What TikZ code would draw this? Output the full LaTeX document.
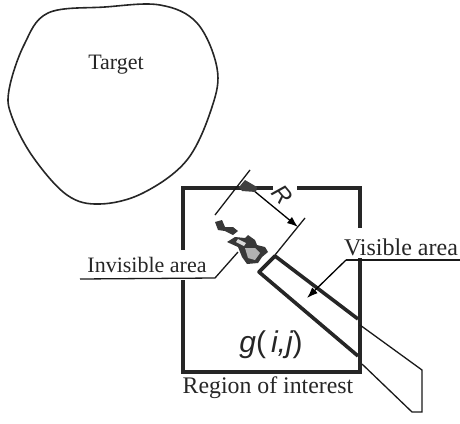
\documentclass[tikz,border=0pt]{standalone}
\usepackage{fontspec}
\setmainfont{Liberation Serif}
\setsansfont{Liberation Sans}
\usetikzlibrary{arrows.meta}

\begin{document}
\begin{tikzpicture}[
  x=1pt, y=-1pt,
  font=\fontsize{22}{24}\selectfont,
  lbl/.style={inner sep=0pt, text=black!85},
  frame/.style={line width=4pt, black!85, line cap=butt},
  slit/.style={line width=3.6pt, black!85, line join=round},
  thin/.style={line width=1.3pt, black!90},
  fl/.style={-{Latex[length=11pt,width=8pt]}, line width=1.3pt},
  spot/.style={fill=black!78, draw=none}
]
\useasboundingbox (0,0) rectangle (460,423);

% target
\draw[line width=1.6pt, black!85] plot[smooth cycle, tension=0.6] coordinates
  {(48,13) (105,7) (160,5) (197,23) (217,68) (212,107) (187,160)
   (143,193) (100,204) (67,195) (33,157) (12,117) (9,90) (24,45)};
\node[lbl] (target) at (116,65) {Target};

% square
\coordinate (tl) at (183,188);
\coordinate (tr) at (360,188);
\coordinate (bl) at (183,372);
\coordinate (br) at (360,372);
\draw[frame] (183,250) -- (tl) -- (273,188);
\draw[frame] (297,188) -- (tr) -- (360,228);
\draw[frame] (360,258) -- (br) -- (bl) -- (183,280);

% visible slit
\coordinate (s1) at (358,319);
\coordinate (s2) at (275,256);
\coordinate (s3) at (259,272);
\coordinate (s4) at (358,356);
\draw[slit] (s1) -- (s2) -- (s3) -- (s4);

% tab of the slit
\coordinate (t1) at (360,325);
\coordinate (t2) at (422,370);
\coordinate (t3) at (422,412);
\coordinate (t4) at (412,412);
\coordinate (t5) at (362,364);
\draw[thin] (t1) -- (t2) -- (t3) -- (t4) -- (t5);

% radius
\coordinate (r1) at (215,215);
\coordinate (r2) at (250,170);
\coordinate (r3) at (275,255);
\coordinate (r4) at (305,218);
\coordinate (r5) at (253,190);
\coordinate (r6) at (298,227);
\draw[thin] (r1) -- (r2);
\draw[thin] (r3) -- (r4);
\draw[fl] (r5) -- (r6);
\fill[black!75] (239,187) -- (245,180) -- (257,187) -- (256,192) -- (242,191) -- cycle;
\node[lbl, rotate=-50] (radius) at (282,195) {\fontsize{24}{26}\selectfont\sffamily\itshape R};

% invisible spots
\fill[spot] (215,222) -- (222,220) -- (225,227) -- (233,227) -- (238,231) -- (233,235) -- (225,231) -- (218,230) -- cycle;
\fill[spot] (227,242) -- (235,237) -- (245,238) -- (248,235) -- (255,240) -- (257,245) -- (265,247) -- (268,252)
  -- (262,257) -- (258,263) -- (247,264) -- (242,257) -- (238,247) -- cycle;
\fill[black!30] (245,248) -- (255,248) -- (260,253) -- (255,260) -- (248,258) -- cycle;
\fill[black!15] (238,239) -- (246,243) -- (244,246) -- (236,242) -- cycle;

% leaders
\node[lbl] (invis) at (147,265) {Invisible area};
\coordinate (i1) at (80,279);
\coordinate (i2) at (215,278);
\coordinate (i3) at (238,252);
\draw[thin] (i1) -- (i2) -- (i3);

\node[lbl] (vis) at (401,247) {\fontsize{24}{26}\selectfont Visible area};
\coordinate (v1) at (460,260);
\coordinate (v2) at (346,260);
\coordinate (v3) at (307,298);
\draw[thin] (v1) -- (v2);
\draw[fl] (v2) -- (v3);

\node[lbl] (gij) at (271,345) {\fontsize{30}{32}\selectfont\sffamily\itshape g\upshape(\,\itshape i,j\upshape)};
\node[lbl] (roi) at (268,388) {\fontsize{23.8}{26}\selectfont Region of interest};
\end{tikzpicture}
\end{document}
